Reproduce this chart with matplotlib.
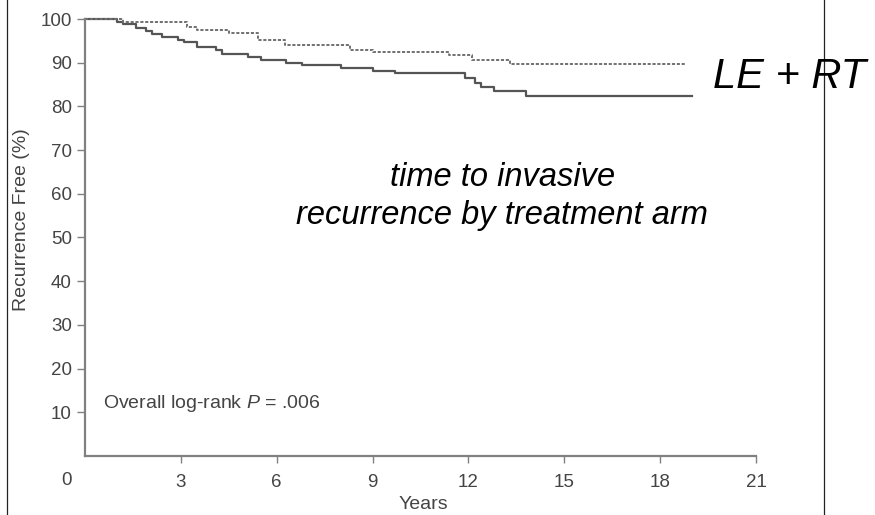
import matplotlib

matplotlib.use("Agg")
import matplotlib.pyplot as plt
from matplotlib.lines import Line2D

plt.rcParams["font.family"] = ["Liberation Sans", "DejaVu Sans"]
plt.rcParams["mathtext.fontset"] = "custom"
plt.rcParams["mathtext.rm"] = "Liberation Sans"
plt.rcParams["mathtext.it"] = "Liberation Sans:italic"

# Kaplan-Meier step points (years, % recurrence free)
le_years = [0, 1.0, 1.2, 1.6, 1.9, 2.1, 2.4, 2.9, 3.1, 3.5, 4.1, 4.3, 5.1, 5.5,
            6.3, 6.8, 8.0, 9.0, 9.7, 11.9, 12.2, 12.4, 12.8, 13.8, 19.0]
le_free = [100, 99.4, 98.8, 98.0, 97.2, 96.5, 95.8, 95.3, 94.8, 93.7, 92.9, 92.1, 91.4, 90.6,
           90.0, 89.5, 88.7, 88.1, 87.6, 86.4, 85.4, 84.5, 83.6, 82.4, 82.4]

lert_years = [0, 1.2, 3.2, 3.5, 4.5, 5.4, 6.25, 8.3, 9.0, 11.4, 12.1, 13.3, 18.8]
lert_free = [100, 99.2, 98.2, 97.5, 96.7, 95.2, 94.1, 92.9, 92.4, 91.8, 90.6, 89.6, 89.6]

x_ticks = [3, 6, 9, 12, 15, 18, 21]
y_ticks = [10, 20, 30, 40, 50, 60, 70, 80, 90, 100]

axis_grey = "#808080"
text_grey = "#444444"

fig = plt.figure(figsize=(8.75, 5.15), dpi=100)
ax = fig.add_axes([0.0971, 0.1146, 0.7669, 0.8485])

ax.step(le_years, le_free, where="post", color="#555555", lw=1.6, clip_on=False)
ax.step(lert_years, lert_free, where="post", color="#707070", lw=1.4,
        linestyle=(0, (1.6, 0.9)), clip_on=False)

ax.set_xlim(0, 21)
ax.set_ylim(0, 100)
ax.set_xticks(x_ticks)
ax.set_yticks(y_ticks)

for side in ("top", "right"):
    ax.spines[side].set_visible(False)
for side in ("left", "bottom"):
    ax.spines[side].set_color(axis_grey)
    ax.spines[side].set_linewidth(1.6)

ax.tick_params(axis="both", direction="out", color=axis_grey, width=1,
               labelcolor=text_grey, labelsize=13.5)
ax.tick_params(axis="x", length=5, pad=8)
ax.tick_params(axis="y", length=6, pad=3.5)

# origin label sits left of the corner
ax.annotate("0", xy=(0, 0), xycoords=("data", "axes fraction"),
            xytext=(-18, -25), textcoords="offset pixels",
            ha="center", va="center", fontsize=13.5, color=text_grey)

ax.set_ylabel("Recurrence Free (%)", fontsize=14, color=text_grey)
ax.yaxis.set_label_coords(-0.094, 0.54)
ax.yaxis.label.set_va("center")
ax.set_xlabel("Years", fontsize=14, color=text_grey)
ax.xaxis.set_label_coords(0.505, -0.112)
ax.xaxis.label.set_va("center")

ax.text(0.56, 12.1, "Overall log-rank $P$ = .006", fontsize=14, color=text_grey,
        ha="left", va="center")

ax.text(13.06, 59.4, "time to invasive\nrecurrence by treatment arm",
        fontsize=23.5, style="italic", color="black", ha="center", va="center",
        multialignment="center", linespacing=1.3)

fig.text(0.815, 0.829, "LE + RT", fontsize=30, style="italic", color="black",
         ha="left", va="baseline")

# page frame lines
fig.add_artist(Line2D([7 / 875, 7 / 875], [0, 1], color="#222222", lw=0.9))
fig.add_artist(Line2D([824 / 875, 824 / 875], [0, 1], color="#222222", lw=0.9))

fig.savefig("out.png", dpi=100)
